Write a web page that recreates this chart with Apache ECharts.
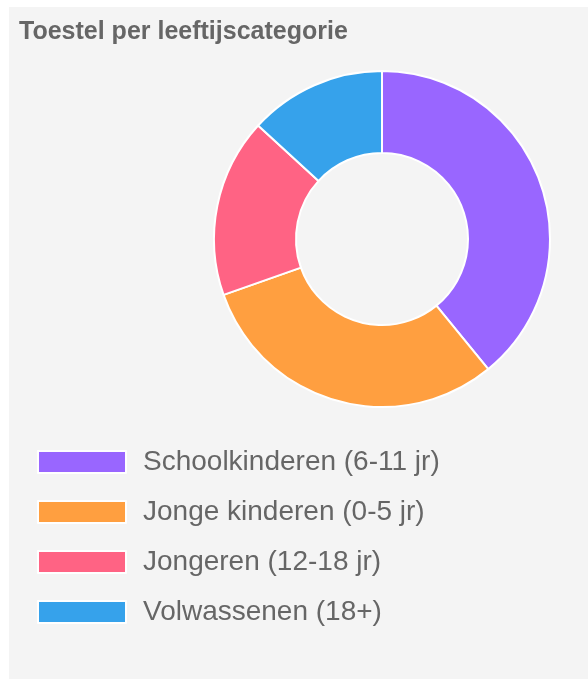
<!DOCTYPE html>
<html>
<head>
<meta charset="utf-8">
<script src="https://cdn.jsdelivr.net/npm/echarts@6/dist/echarts.min.js"></script>
<style>
  html, body { margin: 0; padding: 0; background: #fff; }
  #chart { width: 588px; height: 679px; }
</style>
</head>
<body>
<div id="chart"></div>
<script>
// values (share of each age group, %)
const categories = [
    'Schoolkinderen (6-11 jr)',
    'Jonge kinderen (0-5 jr)',
    'Jongeren (12-18 jr)',
    'Volwassenen (18+)'
];
const values = [39.1, 30.5, 17.2, 13.2];
const colors = ['#9966ff', '#ff9f40', '#ff6384', '#36a2eb'];

let chart = echarts.init(document.getElementById('chart'));

let option = {
    backgroundColor: '#ffffff',
    animation: false,
    graphic: [
        {
            type: 'rect',
            left: 9,
            top: 7,
            shape: { width: 579, height: 672 },
            style: { fill: '#f4f4f4' },
            z: -10
        }
    ],
    title: {
        text: 'Toestel per leeftijscategorie',
        left: 14,
        top: 15,
        textStyle: {
            fontFamily: 'Liberation Sans, Arial, sans-serif',
            fontSize: 25,
            fontWeight: 'bold',
            color: '#666666'
        }
    },
    legend: {
        orient: 'vertical',
        left: 32,
        top: 443,
        itemWidth: 88,
        itemHeight: 22,
        itemGap: 22,
        icon: 'rect',
        data: categories,
        textStyle: {
            fontFamily: 'Liberation Sans, Arial, sans-serif',
            fontSize: 28,
            color: '#666666',
            padding: [0, 0, 0, 12]
        }
    },
    series: [
        {
            type: 'pie',
            center: [382, 239],
            radius: [86, 168],
            startAngle: 90,
            clockwise: true,
            label: { show: false },
            labelLine: { show: false },
            itemStyle: { borderColor: '#ffffff', borderWidth: 2 },
            emphasis: { disabled: true },
            data: categories.map((name, i) => ({
                name: name,
                value: values[i],
                itemStyle: { color: colors[i] }
            }))
        }
    ]
};

option && chart.setOption(option);
</script>
</body>
</html>
